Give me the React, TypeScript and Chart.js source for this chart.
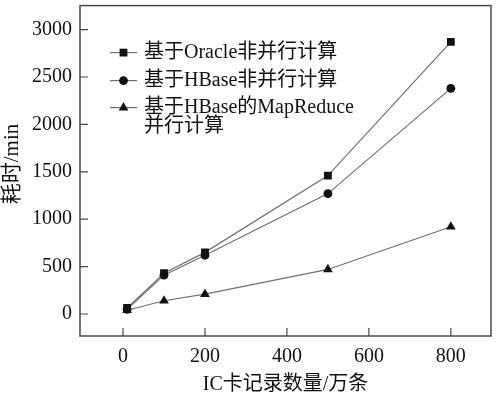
import React, { useEffect, useRef } from "react";
import { Chart, registerables } from "chart.js";
import { drawPoint } from "chart.js/helpers";

Chart.register(...registerables);

const xValues = [10, 100, 200, 500, 800];
const oracleValues = [65, 430, 650, 1460, 2870];
const hbaseValues = [50, 410, 620, 1270, 2380];
const mapReduceValues = [40, 140, 210, 470, 920];
const seriesLabels = ["基于Oracle非并行计算", "基于HBase非并行计算", "基于HBase的MapReduce\n并行计算"];
const xTicks = [0, 200, 400, 600, 800];
const yTicks = [0, 500, 1000, 1500, 2000, 2500, 3000];
const xTitle = "IC卡记录数量/万条";
const yTitle = "耗时/min";

const FONT = "'Liberation Serif', 'Times New Roman', 'Noto Sans CJK SC', serif";
const AXIS = "#4a4a4a";
const LINE = "#707070";

const framePlugin = {
  id: "frame",
  afterDraw(chart: any) {
    const { ctx, chartArea: a, scales } = chart;
    ctx.save();
    ctx.strokeStyle = AXIS;
    ctx.lineWidth = 1.5;
    ctx.strokeRect(a.left, a.top, a.right - a.left, a.bottom - a.top);
    ctx.lineWidth = 1.2;
    ctx.beginPath();
    scales.x.ticks.forEach((t: any) => {
      const px = scales.x.getPixelForValue(t.value);
      ctx.moveTo(px, a.bottom);
      ctx.lineTo(px, a.bottom - 8);
    });
    scales.y.ticks.forEach((t: any) => {
      const py = scales.y.getPixelForValue(t.value);
      ctx.moveTo(a.left, py);
      ctx.lineTo(a.left + 8, py);
    });
    ctx.stroke();

    // y title
    ctx.save();
    ctx.translate(12, 164);
    ctx.rotate(-Math.PI / 2);
    ctx.font = `21px ${FONT}`;
    ctx.textAlign = "center";
    ctx.textBaseline = "middle";
    ctx.fillStyle = "#111";
    ctx.fillText(yTitle, 0, 0);
    ctx.restore();

    // legend
    const rows = [47, 75, 102];
    ctx.font = `20px ${FONT}`;
    ctx.textBaseline = "middle";
    ctx.fillStyle = "#111";
    chart.data.datasets.forEach((ds: any, i: number) => {
      const y = a.top + rows[i];
      const x0 = a.left + 30;
      ctx.strokeStyle = LINE;
      ctx.lineWidth = 1.2;
      ctx.beginPath();
      ctx.moveTo(x0, y);
      ctx.lineTo(x0 + 27, y);
      ctx.stroke();
      ctx.fillStyle = "#111";
      drawPoint(ctx, { pointStyle: ds.pointStyle, radius: ds.pointRadius, borderWidth: 0, rotation: 0 } as any, x0 + 13.5, y);
      ctx.fillStyle = "#111";
      const lines = String(ds.label).split("\n");
      lines.forEach((ln: string, k: number) => {
        ctx.fillText(ln, x0 + 34, y + k * 19);
      });
    });
    ctx.restore();
  },
};

export default function App() {
  const ref = useRef<HTMLCanvasElement>(null);
  useEffect(() => {
    if (!ref.current) return;
    const mk = (label: string, data: number[], style: string, r: number) => ({
      label,
      data: xValues.map((x, i) => ({ x, y: data[i] })),
      borderColor: LINE,
      borderWidth: 1.2,
      backgroundColor: "#111",
      pointBackgroundColor: "#111",
      pointBorderColor: "#111",
      pointBorderWidth: 0,
      pointStyle: style,
      pointRadius: r,
      tension: 0,
    });
    const chart = new Chart(ref.current, {
      type: "line",
      data: {
        datasets: [
          mk(seriesLabels[0], oracleValues, "rect", 5.5),
          mk(seriesLabels[1], hbaseValues, "circle", 4.4),
          mk(seriesLabels[2], mapReduceValues, "triangle", 5.6),
        ],
      },
      options: {
        responsive: false,
        animation: false,
        layout: { padding: { top: 5, right: 6, left: 0, bottom: 0 } },
        plugins: { legend: { display: false }, tooltip: { enabled: false } },
        scales: {
          x: {
            type: "linear",
            min: -105,
            max: 898,
            afterBuildTicks: (s: any) => {
              s.ticks = xTicks.map((v) => ({ value: v }));
            },
            afterFit: (s: any) => {
              s.height = 61;
              s.paddingLeft = 0;
              s.paddingRight = 0;
            },
            grid: { display: false },
            border: { display: false },
            ticks: { color: "#111", font: { family: FONT, size: 20 }, padding: 1, callback: (v: any) => String(v) },
            title: { display: true, text: xTitle, color: "#111", font: { family: FONT, size: 20 }, padding: { top: 0, bottom: 0 } },
          },
          y: {
            type: "linear",
            min: -232,
            max: 3253,
            afterBuildTicks: (s: any) => {
              s.ticks = yTicks.map((v) => ({ value: v }));
            },
            afterFit: (s: any) => {
              s.width = 80;
              s.paddingTop = 0;
              s.paddingBottom = 0;
            },
            grid: { display: false },
            border: { display: false },
            ticks: { color: "#111", font: { family: FONT, size: 20 }, padding: 0, callback: (v: any) => String(v) },
            title: { display: false },
          },
        },
      },
      plugins: [
        {
          id: "bg",
          beforeDraw(c: any) {
            c.ctx.save();
            c.ctx.fillStyle = "#fff";
            c.ctx.fillRect(0, 0, c.width, c.height);
            c.ctx.restore();
          },
        },
        framePlugin,
      ],
    } as any);
    return () => chart.destroy();
  }, []);
  return (
    <div style={{ position: "fixed", left: 0, top: 0, width: 497, height: 397, background: "#fff" }}>
      <canvas ref={ref} width={497} height={397} />
    </div>
  );
}
